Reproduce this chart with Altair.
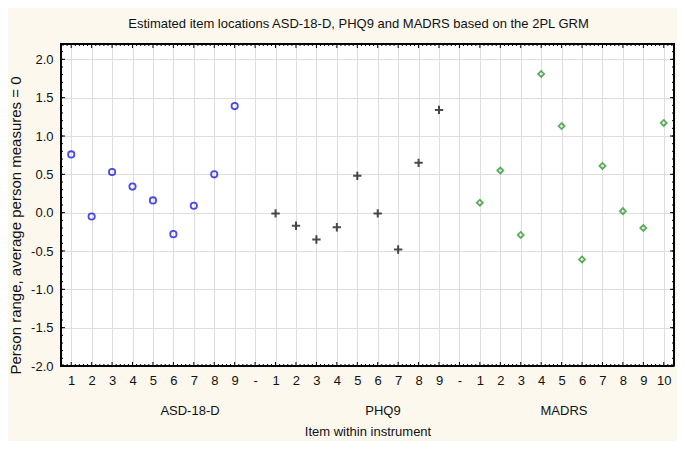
import altair as alt
import pandas as pd
import numpy as np

# ---- data ----
x_labels = ["1", "2", "3", "4", "5", "6", "7", "8", "9", "-",
            "1", "2", "3", "4", "5", "6", "7", "8", "9", "-",
            "1", "2", "3", "4", "5", "6", "7", "8", "9", "10"]
groups = ["ASD-18-D", "PHQ9", "MADRS"]
asd_values = [0.76, -0.05, 0.53, 0.34, 0.16, -0.28, 0.09, 0.50, 1.39]
phq_values = [-0.01, -0.17, -0.35, -0.19, 0.48, -0.01, -0.48, 0.65, 1.34]
madrs_values = [0.13, 0.55, -0.29, 1.81, 1.13, -0.61, 0.61, 0.02, -0.20, 1.17]
y_ticks = [-2.0, -1.5, -1.0, -0.5, 0.0, 0.5, 1.0, 1.5, 2.0]

W, H = 613, 322
FONT = "Liberation Sans"

asd_df = pd.DataFrame({"pos": list(range(0, 9)), "val": asd_values})
phq_df = pd.DataFrame({"pos": list(range(10, 19)), "val": phq_values})
mad_df = pd.DataFrame({"pos": list(range(20, 30)), "val": madrs_values})

xscale = alt.Scale(domain=[-0.5, 29.5], nice=False, zero=False)
yscale = alt.Scale(domain=[-2.0, 2.2], nice=False, zero=False)

label_expr = "[" + ",".join("'%s'" % l for l in x_labels) + "][datum.value]"

xaxis = alt.Axis(values=list(range(30)), labelExpr=label_expr, grid=True,
                 gridColor="#dedede", gridWidth=1, tickSize=0, domain=False,
                 labelFontSize=13, labelPadding=8, labelColor="#111",
                 labelFont=FONT, title="Item within instrument",
                 titleFont=FONT, titleFontSize=13, titleFontWeight="normal",
                 titleColor="#111", titlePadding=38)
yaxis = alt.Axis(values=y_ticks,
                 labelExpr="replace(format(datum.value, '.1f'), '\u2212', '-')",
                 grid=True, gridColor="#dedede", gridWidth=1, tickSize=0,
                 domain=False, labelFontSize=13, labelPadding=8,
                 labelColor="#111", labelFont=FONT,
                 title="Person range, average person measures = 0",
                 titleFont=FONT, titleFontSize=15, titleFontWeight="normal",
                 titleColor="#111", titlePadding=7, titleY=H / 2 + 20)

X = alt.X("pos:Q", scale=xscale, axis=xaxis)
Y = alt.Y("val:Q", scale=yscale, axis=yaxis)

asd = alt.Chart(asd_df).mark_point(
    shape="circle", filled=False, color="#0000dd", strokeWidth=1.8, size=40
).encode(x=X, y=Y)

phq = alt.Chart(phq_df).mark_point(
    shape="M-1,0L1,0M0,-1L0,1", filled=False, color="black", strokeWidth=2,
    size=70
).encode(x=X, y=Y)

mad = alt.Chart(mad_df).mark_point(
    shape="diamond", filled=False, color="#1a8c1a", strokeWidth=1.8, size=36
).encode(x=X, y=Y)

# decorative inside ticks along the frame
x_minor = [round(v, 2) for v in np.arange(-0.4, 29.5, 0.2) if abs(v - round(v)) > 1e-6]
x_major = list(range(30))
y_minor = [round(v, 2) for v in np.arange(-2.0, 2.2, 0.1)]
y_major = y_ticks

def xt(vals, length):
    d = pd.DataFrame({"pos": vals})
    base = alt.Chart(d).mark_rule(color="black", strokeWidth=1)
    return [base.encode(x=X, y=alt.value(H), y2=alt.value(H - length)),
            base.encode(x=X, y=alt.value(0), y2=alt.value(length))]

def yt(vals, length):
    d = pd.DataFrame({"val": vals})
    base = alt.Chart(d).mark_rule(color="black", strokeWidth=1)
    return [base.encode(y=Y, x=alt.value(0), x2=alt.value(length)),
            base.encode(y=Y, x=alt.value(W), x2=alt.value(W - length))]

ticks = xt(x_minor, 2) + xt(x_major, 4) + yt(y_minor, 2) + yt(y_major, 4)

one = alt.Data(values=[{"k": 1}])
edge = alt.Chart(one).mark_rule(color="black", strokeWidth=2)
frame = [
    edge.encode(x=alt.value(0), x2=alt.value(W), y=alt.value(0)),
    edge.encode(x=alt.value(0), x2=alt.value(W), y=alt.value(H)),
    edge.encode(y=alt.value(0), y2=alt.value(H), x=alt.value(0)),
    edge.encode(y=alt.value(0), y2=alt.value(H), x=alt.value(W)),
]

group_px = [129, 322, 503]
texts = [alt.Chart(one).mark_text(
    font=FONT, fontSize=13, color="#111", baseline="middle", align="center"
).encode(x=alt.value(px), y=alt.value(H + 45), text=alt.value(g))
    for g, px in zip(groups, group_px)]

chart = alt.layer(asd, phq, mad, *ticks, *frame, *texts).properties(
    width=W, height=H,
    title=alt.TitleParams(
        "Estimated item locations ASD-18-D, PHQ9 and MADRS based on the 2PL GRM",
        font=FONT, fontSize=13, fontWeight="normal", color="#111",
        anchor="middle", frame="group", dx=-9, offset=12),
    autosize=alt.AutoSizeParams(type="none"),
    padding={"left": 53, "top": 36, "right": 3, "bottom": 75},
    background="#fcf8ee",
).configure_view(stroke="black", strokeWidth=2, fill="white")

chart.save("out.html", embed_options={"renderer": "svg", "actions": False})
